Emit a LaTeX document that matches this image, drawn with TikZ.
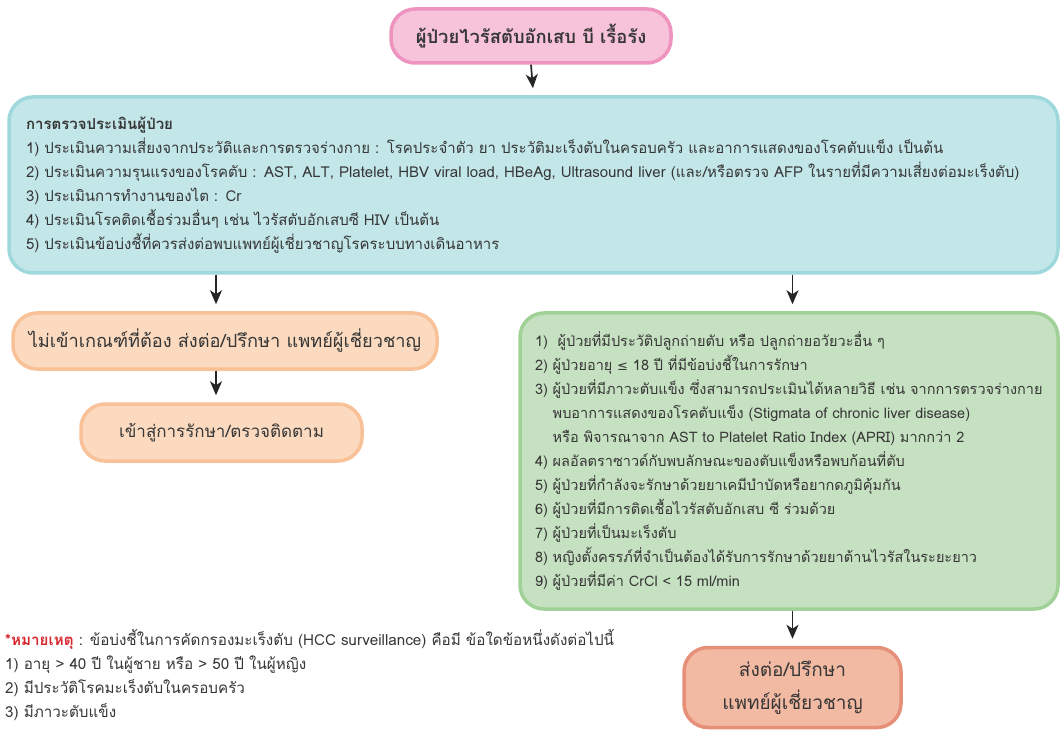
\documentclass[tikz,border=0pt]{standalone}
\usepackage{fontspec}
\setmainfont[Script=Thai]{Loma}
\newfontfamily\symfont{DejaVu Sans}
\usetikzlibrary{arrows.meta}
\definecolor{txt}{HTML}{363636}
\definecolor{pinkfill}{HTML}{F7C3DA}
\definecolor{pinkline}{HTML}{EE93BE}
\definecolor{bluefill}{HTML}{C3E6E8}
\definecolor{blueline}{HTML}{9ED8DC}
\definecolor{orfill}{HTML}{FBDABF}
\definecolor{orline}{HTML}{F8C197}
\definecolor{grfill}{HTML}{C6E1C1}
\definecolor{grline}{HTML}{A0D196}
\definecolor{safill}{HTML}{F2B9A3}
\definecolor{saline}{HTML}{E6907A}
\definecolor{notered}{HTML}{D7282F}
\tikzset{
  box/.style={draw, line width=3.5pt, rounded corners=24pt, text=txt, inner sep=0pt},
  arr/.style={-{Stealth[length=14pt,width=12pt,inset=4pt]}, line width=1.7pt, black!85, shorten >=7pt},
}
\begin{document}
\begin{tikzpicture}[x=1pt,y=-1pt]
\useasboundingbox (0,0) rectangle (1061,730);

% start box
\node[box, fill=pinkfill, draw=pinkline, minimum width=280pt, minimum height=54pt,
      font=\fontsize{18.4}{20}\selectfont\bfseries] (start) at (531,36) {ผู้ป่วยไวรัสตับอักเสบ บี เรื้อรัง};

% assessment box
\node[box, fill=bluefill, draw=blueline, minimum width=1049pt, minimum height=176pt,
      text width=1015pt, align=left, font=\fontsize{15}{24}\selectfont] (assess) at (533.5,185) {%
{\bfseries การตรวจประเมินผู้ป่วย}\\
1) ประเมินความเสี่ยงจากประวัติและการตรวจร่างกาย : โรคประจำตัว ยา ประวัติมะเร็งตับในครอบครัว และอาการแสดงของโรคตับแข็ง เป็นต้น\\
2) ประเมินความรุนแรงของโรคตับ : AST, ALT, Platelet, HBV viral load, HBeAg, Ultrasound liver (และ/หรือตรวจ AFP ในรายที่มีความเสี่ยงต่อมะเร็งตับ)\\
3) ประเมินการทำงานของไต : Cr\\
4) ประเมินโรคติดเชื้อร่วมอื่นๆ เช่น ไวรัสตับอักเสบซี HIV เป็นต้น\\
5) ประเมินข้อบ่งชี้ที่ควรส่งต่อพบแพทย์ผู้เชี่ยวชาญโรคระบบทางเดินอาหาร};

% left branch
\node[box, fill=orfill, draw=orline, minimum width=424pt, minimum height=56pt,
      font=\fontsize{18.2}{20}\selectfont] (nocrit) at (225,341) {ไม่เข้าเกณฑ์ที่ต้อง ส่งต่อ/ปรึกษา แพทย์ผู้เชี่ยวชาญ};
\node[box, fill=orfill, draw=orline, minimum width=281pt, minimum height=57pt,
      font=\fontsize{17}{20}\selectfont] (treat) at (221.5,432.5) {เข้าสู่การรักษา/ตรวจติดตาม};

% referral criteria box
\node[box, fill=grfill, draw=grline, minimum width=538pt, minimum height=296pt,
      text width=508pt, align=left, font=\fontsize{14.5}{24}\selectfont] (crit) at (789,461) {%
1)\ \ ผู้ป่วยที่มีประวัติปลูกถ่ายตับ หรือ ปลูกถ่ายอวัยวะอื่น ๆ\\
2)\ ผู้ป่วยอายุ {\symfont\fontsize{13}{24}\selectfont ≤} 18 ปี ที่มีข้อบ่งชี้ในการรักษา\\
3)\ ผู้ป่วยที่มีภาวะตับแข็ง ซึ่งสามารถประเมินได้หลายวิธี เช่น จากการตรวจร่างกาย\\
\phantom{3)\ }พบอาการแสดงของโรคตับแข็ง (Stigmata of chronic liver disease)\\
\phantom{3)\ }หรือ พิจารณาจาก AST to Platelet Ratio Index (APRI) มากกว่า 2\\
4)\ ผลอัลตราซาวด์กับพบลักษณะของตับแข็งหรือพบก้อนที่ตับ\\
5)\ ผู้ป่วยที่กำลังจะรักษาด้วยยาเคมีบำบัดหรือยากดภูมิคุ้มกัน\\
6)\ ผู้ป่วยที่มีการติดเชื้อไวรัสตับอักเสบ ซี ร่วมด้วย\\
7)\ ผู้ป่วยที่เป็นมะเร็งตับ\\
8)\ หญิงตั้งครรภ์ที่จำเป็นต้องได้รับการรักษาด้วยยาต้านไวรัสในระยะยาว\\
9)\ ผู้ป่วยที่มีค่า CrCl < 15 ml/min};

% referral outcome
\node[box, fill=safill, draw=saline, minimum width=217pt, minimum height=80pt,
      font=\fontsize{19}{33}\selectfont, align=center] (refer) at (792.5,687.5) {ส่งต่อ/ปรึกษา\\แพทย์ผู้เชี่ยวชาญ};

% surveillance note
\node[anchor=north west, inner sep=0pt, align=left, text=txt,
      font=\fontsize{15.2}{24}\selectfont] (note) at (5,629) {%
{\color{notered}\bfseries *หมายเหตุ} : ข้อบ่งชี้ในการคัดกรองมะเร็งตับ (HCC surveillance) คือมี ข้อใดข้อหนึ่งดังต่อไปนี้\\
1) อายุ > 40 ปี ในผู้ชาย หรือ > 50 ปี ในผู้หญิง\\
2) มีประวัติโรคมะเร็งตับในครอบครัว\\
3) มีภาวะตับแข็ง};

% connectors
\coordinate (lcol) at (216,0);
\draw[arr] (start.south) -- (assess.north);
\draw[arr] (assess.south -| lcol) -- (nocrit.north -| lcol);
\draw[arr] (nocrit.south -| lcol) -- (treat.north -| lcol);
\draw[arr] (assess.south -| refer) -- (crit.north -| refer);
\draw[arr] (crit.south -| refer) -- (refer.north);
\end{tikzpicture}
\end{document}
